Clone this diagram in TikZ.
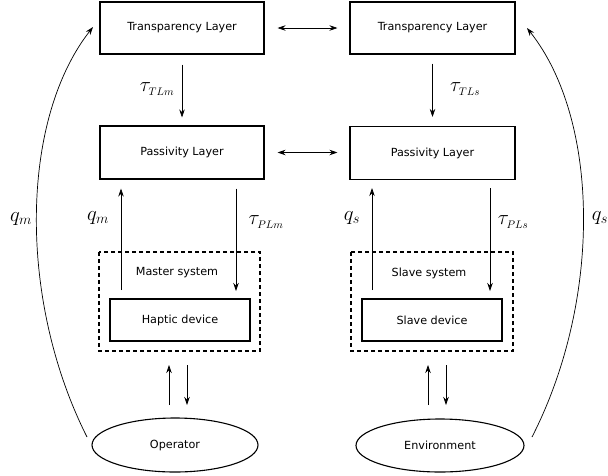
\documentclass[tikz,border=0pt]{standalone}
\usepackage{fontspec}
\setmainfont{DejaVu Sans}
\usetikzlibrary{arrows.meta,shapes.geometric}
\tikzset{
  layerbox/.style={draw,line width=1.1pt,minimum width=#1,minimum height=52pt,inner sep=0pt,font=\fontsize{11.2}{13}\selectfont},
  devbox/.style={draw,line width=1.1pt,minimum width=140pt,minimum height=42pt,inner sep=0pt,font=\fontsize{11.2}{13}\selectfont},
  sysbox/.style={draw,dashed,line width=1.1pt,dash pattern=on 4pt off 3pt},
  envell/.style={draw,ellipse,line width=1.1pt,inner sep=0pt,font=\fontsize{11.2}{13}\selectfont},
  sig/.style={line width=0.7pt,-{Stealth[length=8pt,width=5.5pt]}},
  bisig/.style={line width=0.7pt,{Stealth[length=8pt,width=5.5pt]}-{Stealth[length=8pt,width=5.5pt]}},
  mlab/.style={font=\fontsize{20}{24}\selectfont,inner sep=0pt},
  tlab/.style={font=\fontsize{22}{26}\selectfont,inner sep=0pt},
  txt/.style={font=\fontsize{11.2}{13}\selectfont,inner sep=0pt}
}
\begin{document}
\begin{tikzpicture}[x=1pt,y=-1pt]
\useasboundingbox (0,0) rectangle (608,475);
% layers
\node[layerbox=164pt] (TLL) at (182,28) {Transparency Layer};
\node[layerbox=165pt] (TLR) at (432.5,28) {Transparency Layer};
\node[layerbox=164pt,minimum height=53pt] (PLL) at (182,152.5) {Passivity Layer};
\node[layerbox=165pt,minimum height=53pt] (PLR) at (432.5,153) {Passivity Layer};
% systems
\draw[sysbox] (99,252) rectangle (260,351);
\draw[sysbox] (351,252) rectangle (513,351);
\node[txt] (MS) at (177,273) {Master system};
\node[txt] (SS) at (429,273) {Slave system};
\node[devbox] (HD) at (180,320) {Haptic device};
\node[devbox] (SD) at (432,320) {Slave device};
% ellipses
\node[envell,minimum width=166pt,minimum height=54pt] (OP) at (175,445) {Operator};
\node[envell,minimum width=168pt,minimum height=53pt] (EN) at (440,445.5) {Environment};
% horizontal bidirectional arrows
\draw[bisig,shorten <=13pt,shorten >=12pt] (TLL.east) -- (TLL.east -| TLR.west);
\draw[bisig,shorten <=13pt,shorten >=12pt] (PLL.east) -- (PLL.east -| PLR.west);
% tau TL arrows
\draw[sig,shorten <=10pt,shorten >=8pt] (TLL.south) -- (PLL.north);
\draw[sig,shorten <=9pt,shorten >=9pt] (TLR.south) -- (PLR.north);
% q and tau PL arrows, master
\coordinate (qmS) at (121,290);
\coordinate (tmE) at (236,291);
\draw[sig,shorten >=9pt] (qmS) -- (qmS |- PLL.south);
\draw[sig,shorten <=9pt] (tmE |- PLL.south) -- (tmE);
% slave
\coordinate (qsS) at (372,290);
\coordinate (tsE) at (490,291);
\draw[sig,shorten >=8pt] (qsS) -- (qsS |- PLR.south);
\draw[sig,shorten <=8pt] (tsE |- PLR.south) -- (tsE);
% operator arrows
\coordinate (ou1) at (169,405);
\coordinate (ou2) at (169,365);
\coordinate (od1) at (187,365);
\coordinate (od2) at (187,405);
\draw[sig] (ou1) -- (ou2);
\draw[sig] (od1) -- (od2);
% environment arrows
\coordinate (eu1) at (428,405);
\coordinate (eu2) at (428,365);
\coordinate (ed1) at (446,365);
\coordinate (ed2) at (446,405);
\draw[sig] (eu1) -- (eu2);
\draw[sig] (ed1) -- (ed2);
% big curves
\coordinate (cl) at (87,437);
\coordinate (cr) at (532,437);
\coordinate (tl) at (93,27);
\coordinate (tr) at (527,28);
\draw[sig] (cl) .. controls (18,300) and (20,120) .. (tl);
\draw[sig] (cr) .. controls (602,300) and (600,120) .. (tr);
% labels
\node[tlab] (l1) at (157,89) {$\tau_{\scriptscriptstyle TLm}$};
\node[tlab] (l2) at (465,89) {$\tau_{\scriptscriptstyle TLs}$};
\node[mlab] (l3) at (98,218) {$q_m$};
\node[tlab] (l4) at (266,222) {$\tau_{\scriptscriptstyle PLm}$};
\node[mlab] (l5) at (352,218) {$q_s$};
\node[tlab] (l6) at (513,222) {$\tau_{\scriptscriptstyle PLs}$};
\node[mlab] (l7) at (21,219) {$q_m$};
\node[mlab] (l8) at (600,218) {$q_s$};
\end{tikzpicture}
\end{document}
